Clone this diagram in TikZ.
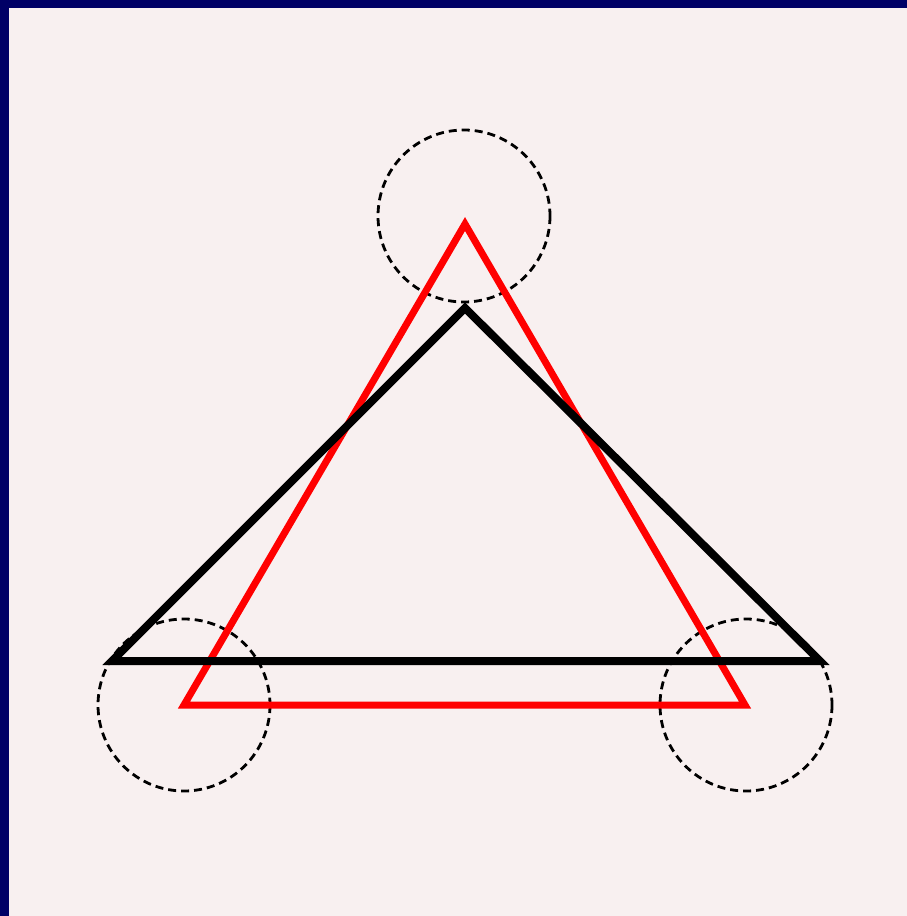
\documentclass[tikz,border=0pt]{standalone}
\begin{document}
\begin{tikzpicture}[x=1pt,y=-1pt,
  redtri/.style={draw={rgb,255:red,255;green,0;blue,0},line width=7pt,line join=miter},
  blacktri/.style={draw=black,line width=8pt,line join=miter},
  dcirc/.style={draw=black,line width=2.8pt,dash pattern=on 8pt off 5pt}]
\definecolor{navyb}{RGB}{0,0,102}
\definecolor{bgp}{RGB}{248,240,240}
\useasboundingbox (0,0) rectangle (907,916);
\fill[navyb] (0,0) rectangle (907,916);
\fill[bgp] (9,8) rectangle (907,916);
\coordinate (rt) at (465,224);
\coordinate (rl) at (184,705);
\coordinate (rr) at (745,705);
\coordinate (bt) at (465,308);
\coordinate (bl) at (112,661);
\coordinate (br) at (820,661);
\draw[dcirc] (464,216) circle (86);
\draw[dcirc] (184,705) circle (86);
\draw[dcirc] (746,705) circle (86);
\draw[redtri] (rt) -- (rl) -- (rr) -- cycle;
\draw[blacktri] (bt) -- (bl) -- (br) -- cycle;
\end{tikzpicture}
\end{document}
